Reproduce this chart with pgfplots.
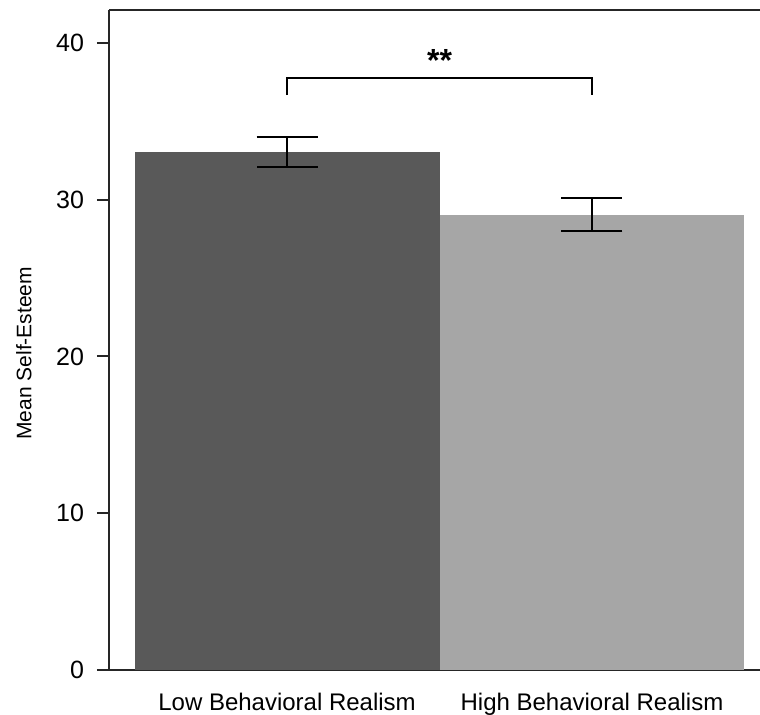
\documentclass[border=0pt]{standalone}
\usepackage{pgfplots}
\pgfplotsset{compat=1.18}
\usepackage{fontspec}
\setmainfont{Liberation Sans}
\definecolor{barA}{RGB}{89,89,89}
\definecolor{barB}{RGB}{166,166,166}
\begin{document}
\begin{tikzpicture}
\begin{axis}[
  scale only axis,
  width=325.5pt, height=330pt,
  xmin=-0.584, xmax=1.551,
  ymin=0, ymax=42.1,
  axis lines*=left,
  axis line style={line width=1pt, black!85},
  clip=false,
  ytick={0,10,20,30,40},
  xtick={0,1},
  xticklabels={Low Behavioral Realism, High Behavioral Realism},
  x tick style={draw=none},
  y tick style={line width=1pt, black!85},
  tick align=outside,
  major tick length=6pt,
  /pgf/number format/assume math mode=true,
  xticklabel style={font=\fontsize{12pt}{14pt}\selectfont, yshift=-2pt},
  yticklabel style={font=\fontsize{12.5pt}{14pt}\selectfont, xshift=-3pt},
  ylabel={Mean Self-Esteem},
  ylabel style={font=\fontsize{10.5pt}{12pt}\selectfont, at={(axis description cs:-0.1306,0.48)}, anchor=center},
  ybar, bar width=1,
]
\addplot[fill=barA, draw=none, bar shift=0,
  error bars/.cd, y dir=both, y explicit,
  error bar style={line width=1pt, black},
  error mark options={line width=1pt, black, mark size=15.25pt, rotate=90}]
  coordinates {(0,33.05) +- (0,0.97)};
\addplot[fill=barB, draw=none, bar shift=0,
  error bars/.cd, y dir=both, y explicit,
  error bar style={line width=1pt, black},
  error mark options={line width=1pt, black, mark size=15.25pt, rotate=90}]
  coordinates {(1,29.03) +- (0,1.05)};
\draw[line width=1pt, black!85] (rel axis cs:0,1) -- (rel axis cs:1,1);
\draw[line width=1pt, black] (axis cs:0,36.67) -- (axis cs:0,37.77) -- (axis cs:1,37.77) -- (axis cs:1,36.67);
\node[font=\fontsize{16pt}{18pt}\selectfont\bfseries, anchor=base] at (axis cs:0.5,38.15) {**};
\end{axis}
\pgfresetboundingbox
\useasboundingbox (-54.5pt,-22.5pt) rectangle (325.5pt,335pt);
\end{tikzpicture}
\end{document}
